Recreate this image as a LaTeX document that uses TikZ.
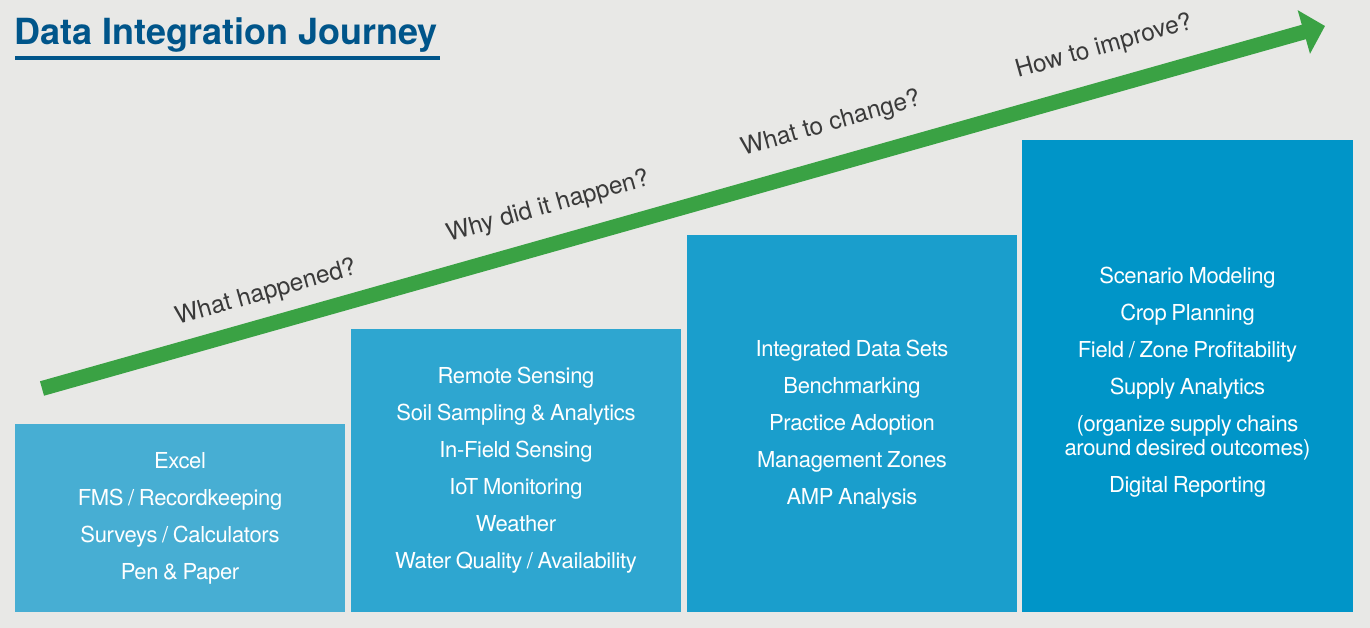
\documentclass[tikz,border=0pt]{standalone}
\usepackage{fontspec}
\setmainfont{TeX Gyre Heros}
\newfontfamily\bodyfont[LetterSpace=-1.5,WordSpace=0.8]{TeX Gyre Heros}
\newfontfamily\plainfont{TeX Gyre Heros}
\usetikzlibrary{arrows.meta}
\definecolor{bgc}{HTML}{E8E8E6}
\definecolor{titleblue}{HTML}{00558A}
\definecolor{stepA}{HTML}{47AED3}
\definecolor{stepB}{HTML}{2EA6D0}
\definecolor{stepC}{HTML}{1A9ECC}
\definecolor{stepD}{HTML}{0095C8}
\definecolor{arrowgreen}{HTML}{3AA244}
\definecolor{labelgray}{HTML}{3A3A3A}
\tikzset{
  stepbox/.style={fill=#1, draw=none, minimum width=330pt, inner sep=0pt},
  steptext/.style={text=white, align=center, inner sep=0pt,
    font=\bodyfont\fontsize{22}{37}\selectfont},
  question/.style={text=labelgray, rotate=15.76, inner sep=0pt,
    font=\plainfont\fontsize{24.5}{28}\selectfont},
}
\begin{document}
\begin{tikzpicture}[x=1pt,y=-1pt]
  \fill[bgc] (0,0) rectangle (1370,628);
  \useasboundingbox (0,0) rectangle (1370,628);

  % title and underline
  \node[anchor=base west, inner sep=0pt, text=titleblue,
        font=\plainfont\bfseries\fontsize{36}{40}\selectfont] (title) at (14,45) {Data Integration Journey};
  \fill[titleblue] (15,56.5) rectangle (440,60.5);

  % the four stages
  \node[stepbox=stepA, minimum height=188pt] (s1) at (180,518) {};
  \node[stepbox=stepB, minimum height=283pt] (s2) at (516,470.5) {};
  \node[stepbox=stepC, minimum height=377pt] (s3) at (852,423.5) {};
  \node[stepbox=stepD, minimum width=331pt, minimum height=472pt] (s4) at (1187.5,376) {};

  \node[steptext] (t1) at (180,518)
    {Excel\\FMS / Recordkeeping\\Surveys / Calculators\\Pen \& Paper};
  \node[steptext] (t2) at (516,470.5)
    {Remote Sensing\\Soil Sampling \& Analytics\\In-Field Sensing\\IoT Monitoring\\Weather\\Water Quality / Availability};
  \node[steptext] (t3) at (852,424.5)
    {Integrated Data Sets\\Benchmarking\\Practice Adoption\\Management Zones\\AMP Analysis};
  \node[steptext] (t4) at (1187.5,382)
    {Scenario Modeling\\Crop Planning\\Field / Zone Profitability\\Supply Analytics\\(organize supply chains\\[-13pt]around desired outcomes)\\Digital Reporting};

  % progress arrow
  \coordinate (arrstart) at (42,388.5);
  \coordinate (arrtip) at (1325,26);
  \draw[arrowgreen, line width=15pt, -{Triangle[length=22pt,width=44pt]}] (arrstart) -- (arrtip);

  % questions along the arrow
  \node[question] (q1) at (266,293) {What happened?};
  \node[question] (q2) at (548,207) {Why did it happen?};
  \node[question] (q3) at (831,124) {What to change?};
  \node[question] (q4) at (1104,47) {How to improve?};
\end{tikzpicture}
\end{document}
